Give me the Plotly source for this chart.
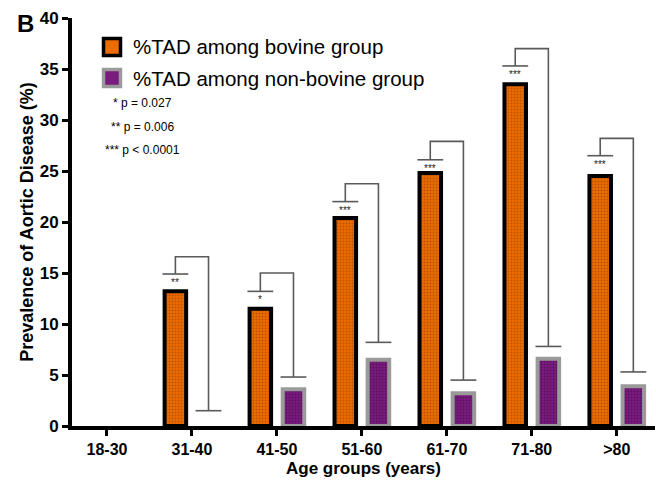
import plotly.graph_objects as go

# ---- data ----
categories = ["18-30", "31-40", "41-50", "51-60", "61-70", "71-80", ">80"]
bovine = [0, 13.2, 11.5, 20.4, 24.8, 33.5, 24.5]
non_bovine = [0, 0, 3.6, 6.5, 3.2, 6.6, 3.9]
# significance brackets: cap over bovine bar, bracket top, cap over non-bovine bar
bovine_cap = [None, 14.9, 13.2, 22.0, 26.1, 35.3, 26.5]
bracket_top = [None, 16.6, 15.0, 23.75, 27.9, 37.0, 28.2]
non_bovine_cap = [None, 1.5, 4.8, 8.2, 4.5, 7.8, 5.3]
stars = ["", "**", "*", "***", "***", "***", "***"]
p_notes = ["* p = 0.027", "** p = 0.006", "*** p < 0.0001"]
legend_names = ["%TAD among bovine group", "%TAD among non-bovine group"]

# ---- styling ----
W, H = 656, 483
L, R, T, B = 72, 1, 18, 57
BARGAP = 0.22
BARGROUPGAP = 0.35
ORANGE = "#EC6C00"
ORANGE_DOT = "#8C3A00"
PURPLE = "#7A1B7E"
PURPLE_DOT = "#3A0A3C"
GREY = "#9A9A9A"
BR = "#5a5a5a"
FONT = "Liberation Sans"

def px(x):
    return (x - L) / (W - L - R)

def py(y):
    return (H - B - y) / (H - T - B)

xs = list(range(len(categories)))
d = (1 - BARGAP) / 4.0
capw = (1 - BARGAP) / 2.0 * 0.78

def nz(v):
    return [x if x else None for x in v]

fig = go.Figure()
fig.add_trace(go.Bar(
    x=xs, y=nz(bovine), name=legend_names[0], showlegend=False,
    marker=dict(color=ORANGE, line=dict(color="black", width=4),
                pattern=dict(shape=".", bgcolor=ORANGE, fgcolor=ORANGE_DOT, size=3, solidity=0.35)),
))
fig.add_trace(go.Bar(
    x=xs, y=nz(non_bovine), name=legend_names[1], showlegend=False,
    marker=dict(color=PURPLE, line=dict(color=GREY, width=4),
                pattern=dict(shape=".", bgcolor=PURPLE, fgcolor=PURPLE_DOT, size=3, solidity=0.35)),
))

# brackets
bx, by = [], []
for i in xs:
    if bovine_cap[i] is None:
        continue
    xo, xp = i - d, i + d
    bx += [xo - capw / 2, xo + capw / 2, None]
    by += [bovine_cap[i], bovine_cap[i], None]
    bx += [xo, xo, xp, xp, None]
    by += [bovine_cap[i], bracket_top[i], bracket_top[i], non_bovine_cap[i], None]
    bx += [xp - capw / 2, xp + capw / 2, None]
    by += [non_bovine_cap[i], non_bovine_cap[i], None]
fig.add_trace(go.Scatter(x=bx, y=by, mode="lines", line=dict(color=BR, width=1.6),
                         showlegend=False, hoverinfo="skip", cliponaxis=False))

annotations = []
for i in xs:
    if stars[i]:
        annotations.append(dict(x=i - d, y=bovine_cap[i], xref="x", yref="y", text=stars[i],
                                showarrow=False, yanchor="top", yshift=-1,
                                font=dict(family=FONT, size=10, color="#222222")))

for k, t in enumerate(p_notes):
    annotations.append(dict(x=px(142), y=py(103 + 23.5 * k), xref="paper", yref="paper", text=t,
                            showarrow=False, xanchor="center", yanchor="middle",
                            font=dict(family=FONT, size=12, color="black")))

# legend (drawn manually)
shapes = []
leg_y = [47, 78]
leg_fill = [ORANGE, PURPLE]
leg_line = ["black", GREY]
for k in range(2):
    shapes.append(dict(type="rect", xref="paper", yref="paper",
                       x0=px(103.5), x1=px(120.5), y0=py(leg_y[k] - 8.5), y1=py(leg_y[k] + 8.5),
                       fillcolor=leg_fill[k], line=dict(color=leg_line[k], width=3.5)))
    annotations.append(dict(x=px(131), y=py(leg_y[k]), xref="paper", yref="paper",
                            text=legend_names[k], showarrow=False, xanchor="left", yanchor="middle",
                            font=dict(family=FONT, size=20.5, color="black")))

annotations.append(dict(x=px(15), y=py(24), xref="paper", yref="paper", text="B",
                        showarrow=False, xanchor="left", yanchor="middle",
                        font=dict(family=FONT, size=24, color="black", weight="bold")))

fig.update_layout(
    width=W, height=H,
    margin=dict(l=L, r=R, t=T, b=B),
    paper_bgcolor="white", plot_bgcolor="white",
    barmode="group", bargap=BARGAP, bargroupgap=BARGROUPGAP,
    showlegend=False,
    annotations=annotations, shapes=shapes,
    font=dict(family=FONT, color="black"),
)
fig.update_xaxes(
    range=[(L - 107) / 85.0, 6.45], tickmode="array", tickvals=xs, ticktext=categories,
    showline=True, linecolor="black", linewidth=4, ticks="outside", ticklen=6, tickwidth=3,
    tickcolor="black", showgrid=False, zeroline=False,
    tickfont=dict(family=FONT, size=16, weight="bold"),
    title=dict(text="Age groups (years)", font=dict(family=FONT, size=17, weight="bold"), standoff=6),
)
fig.update_yaxes(
    range=[0, 40], tickmode="array", tickvals=[0, 5, 10, 15, 20, 25, 30, 35, 40],
    showline=True, linecolor="black", linewidth=4, ticks="outside", ticklen=6, tickwidth=3,
    tickcolor="black", showgrid=False, zeroline=False,
    tickfont=dict(family=FONT, size=17, weight="bold"),
    title=dict(text="Prevalence of Aortic Disease (%)", font=dict(family=FONT, size=18, weight="bold"), standoff=2),
)

fig.write_html("out.html")
